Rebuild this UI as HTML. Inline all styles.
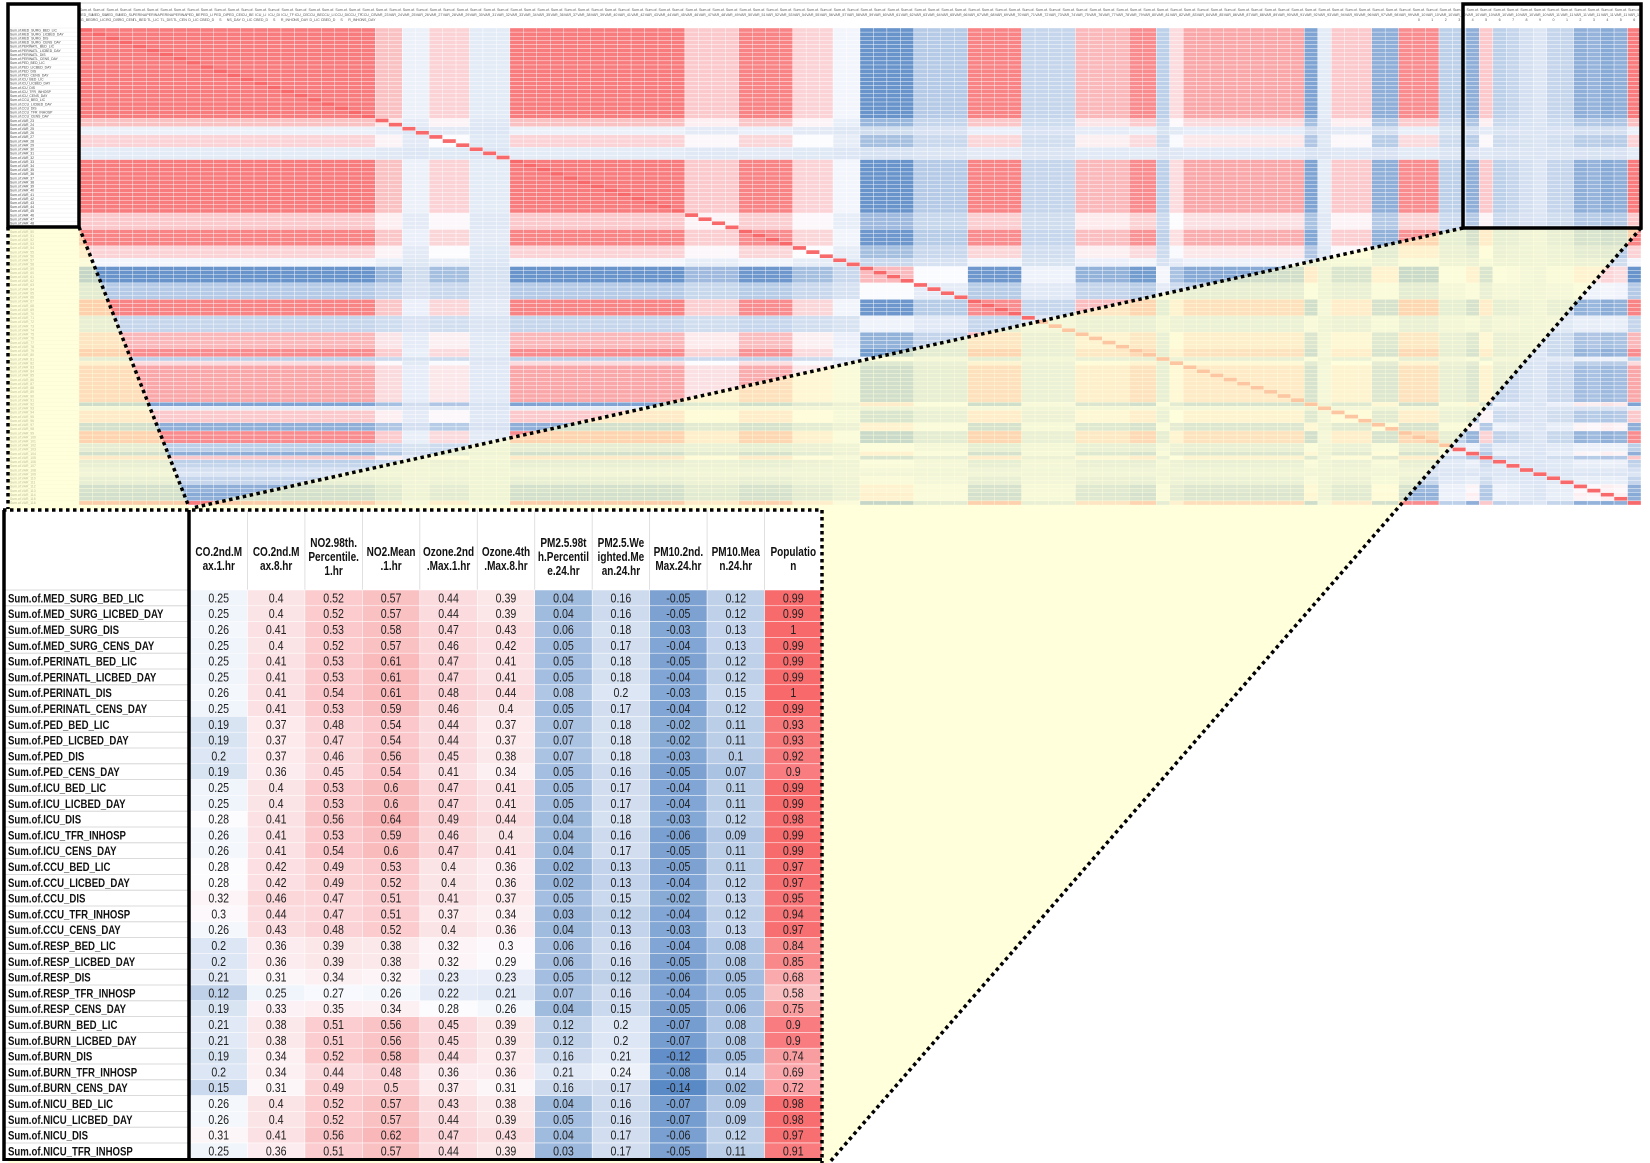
<!DOCTYPE html>
<html><head><meta charset="utf-8">
<style>
html,body{margin:0;padding:0;background:#fff;}
svg{display:block;}
text{font-family:"Liberation Sans Narrow","Liberation Sans",sans-serif;}
</style></head>
<body>
<svg id="fig" xmlns="http://www.w3.org/2000/svg" width="1650" height="1163" viewBox="0 0 1650 1163">
<g id="topheat"></g>
<g id="overlay"></g>
<g id="table"></g>
</svg>
<script>
// ---- full heatmap data: per-variable loading ----
const loadings = [
0.95,0.95,0.95,0.95,0.95,0.95,0.95,0.95,0.95,0.95,0.95,0.95,0.95,0.95,0.95,0.95,0.95,0.95,0.95,0.95,0.95,0.95,
0.55,0.55,0.1,0.1,0.45,0.45,0.45,0.05,0.05,0.05,
0.95,0.95,0.95,0.95,0.95,0.95,0.95,0.95,0.95,0.95,0.95,0.95,0.95,
0.5,0.5,0.5,0.5,0.9,0.9,0.9,0.9,0.45,0.45,0.45,0.15,0.15,
-0.75,-0.75,-0.75,-0.75,-0.25,-0.25,-0.25,-0.25,0.9,0.9,0.9,0.9,-0.15,-0.15,-0.15,-0.15,
0.6,0.6,0.6,0.6,0.85,0.85,-0.2,0.4,0.7,0.7,0.7,0.7,0.7,0.7,0.7,0.7,0.7,
-0.6,0.05,0.5,0.5,0.5,-0.5,-0.5,0.85,0.85,0.85,-0.2,-0.2,
-0.5,0.5,-0.2,-0.15,-0.05,0.0,-0.15,-0.15,-0.5,-0.45,-0.55,-0.5,0.95];
const topLabelStems = ["MED_SURG_BED_LIC","MED_SURG_LICBED_DAY","MED_SURG_DIS","MED_SURG_CENS_DAY","PERINATL_BED_LIC","PERINATL_LICBED_DAY","PERINATL_DIS","PERINATL_CENS_DAY","PED_BED_LIC","PED_LICBED_DAY","PED_DIS","PED_CENS_DAY","ICU_BED_LIC","ICU_LICBED_DAY","ICU_DIS","ICU_TFR_INHOSP","ICU_CENS_DAY","CCU_BED_LIC","CCU_LICBED_DAY","CCU_DIS","CCU_TFR_INHOSP","CCU_CENS_DAY"];

// ---- zoomed table data ----
const colNames = [["CO.2nd.M","ax.1.hr"],["CO.2nd.M","ax.8.hr"],["NO2.98th.","Percentile.","1.hr"],["NO2.Mean",".1.hr"],["Ozone.2nd",".Max.1.hr"],["Ozone.4th",".Max.8.hr"],["PM2.5.98t","h.Percentil","e.24.hr"],["PM2.5.We","ighted.Me","an.24.hr"],["PM10.2nd.","Max.24.hr"],["PM10.Mea","n.24.hr"],["Populatio","n"]];
const rowNames = ["Sum.of.MED_SURG_BED_LIC","Sum.of.MED_SURG_LICBED_DAY","Sum.of.MED_SURG_DIS","Sum.of.MED_SURG_CENS_DAY","Sum.of.PERINATL_BED_LIC","Sum.of.PERINATL_LICBED_DAY","Sum.of.PERINATL_DIS","Sum.of.PERINATL_CENS_DAY","Sum.of.PED_BED_LIC","Sum.of.PED_LICBED_DAY","Sum.of.PED_DIS","Sum.of.PED_CENS_DAY","Sum.of.ICU_BED_LIC","Sum.of.ICU_LICBED_DAY","Sum.of.ICU_DIS","Sum.of.ICU_TFR_INHOSP","Sum.of.ICU_CENS_DAY","Sum.of.CCU_BED_LIC","Sum.of.CCU_LICBED_DAY","Sum.of.CCU_DIS","Sum.of.CCU_TFR_INHOSP","Sum.of.CCU_CENS_DAY","Sum.of.RESP_BED_LIC","Sum.of.RESP_LICBED_DAY","Sum.of.RESP_DIS","Sum.of.RESP_TFR_INHOSP","Sum.of.RESP_CENS_DAY","Sum.of.BURN_BED_LIC","Sum.of.BURN_LICBED_DAY","Sum.of.BURN_DIS","Sum.of.BURN_TFR_INHOSP","Sum.of.BURN_CENS_DAY","Sum.of.NICU_BED_LIC","Sum.of.NICU_LICBED_DAY","Sum.of.NICU_DIS","Sum.of.NICU_TFR_INHOSP"];
const tableValues = [
[0.25,0.4,0.52,0.57,0.44,0.39,0.04,0.16,-0.05,0.12,0.99],
[0.25,0.4,0.52,0.57,0.44,0.39,0.04,0.16,-0.05,0.12,0.99],
[0.26,0.41,0.53,0.58,0.47,0.43,0.06,0.18,-0.03,0.13,1],
[0.25,0.4,0.52,0.57,0.46,0.42,0.05,0.17,-0.04,0.13,0.99],
[0.25,0.41,0.53,0.61,0.47,0.41,0.05,0.18,-0.05,0.12,0.99],
[0.25,0.41,0.53,0.61,0.47,0.41,0.05,0.18,-0.04,0.12,0.99],
[0.26,0.41,0.54,0.61,0.48,0.44,0.08,0.2,-0.03,0.15,1],
[0.25,0.41,0.53,0.59,0.46,0.4,0.05,0.17,-0.04,0.12,0.99],
[0.19,0.37,0.48,0.54,0.44,0.37,0.07,0.18,-0.02,0.11,0.93],
[0.19,0.37,0.47,0.54,0.44,0.37,0.07,0.18,-0.02,0.11,0.93],
[0.2,0.37,0.46,0.56,0.45,0.38,0.07,0.18,-0.03,0.1,0.92],
[0.19,0.36,0.45,0.54,0.41,0.34,0.05,0.16,-0.05,0.07,0.9],
[0.25,0.4,0.53,0.6,0.47,0.41,0.05,0.17,-0.04,0.11,0.99],
[0.25,0.4,0.53,0.6,0.47,0.41,0.05,0.17,-0.04,0.11,0.99],
[0.28,0.41,0.56,0.64,0.49,0.44,0.04,0.18,-0.03,0.12,0.98],
[0.26,0.41,0.53,0.59,0.46,0.4,0.04,0.16,-0.06,0.09,0.99],
[0.26,0.41,0.54,0.6,0.47,0.41,0.04,0.17,-0.05,0.11,0.99],
[0.28,0.42,0.49,0.53,0.4,0.36,0.02,0.13,-0.05,0.11,0.97],
[0.28,0.42,0.49,0.52,0.4,0.36,0.02,0.13,-0.04,0.12,0.97],
[0.32,0.46,0.47,0.51,0.41,0.37,0.05,0.15,-0.02,0.13,0.95],
[0.3,0.44,0.47,0.51,0.37,0.34,0.03,0.12,-0.04,0.12,0.94],
[0.26,0.43,0.48,0.52,0.4,0.36,0.04,0.13,-0.03,0.13,0.97],
[0.2,0.36,0.39,0.38,0.32,0.3,0.06,0.16,-0.04,0.08,0.84],
[0.2,0.36,0.39,0.38,0.32,0.29,0.06,0.16,-0.05,0.08,0.85],
[0.21,0.31,0.34,0.32,0.23,0.23,0.05,0.12,-0.06,0.05,0.68],
[0.12,0.25,0.27,0.26,0.22,0.21,0.07,0.16,-0.04,0.05,0.58],
[0.19,0.33,0.35,0.34,0.28,0.26,0.04,0.15,-0.05,0.06,0.75],
[0.21,0.38,0.51,0.56,0.45,0.39,0.12,0.2,-0.07,0.08,0.9],
[0.21,0.38,0.51,0.56,0.45,0.39,0.12,0.2,-0.07,0.08,0.9],
[0.19,0.34,0.52,0.58,0.44,0.37,0.16,0.21,-0.12,0.05,0.74],
[0.2,0.34,0.44,0.48,0.36,0.36,0.21,0.24,-0.08,0.14,0.69],
[0.15,0.31,0.49,0.5,0.37,0.31,0.16,0.17,-0.14,0.02,0.72],
[0.26,0.4,0.52,0.57,0.43,0.38,0.04,0.16,-0.07,0.09,0.98],
[0.26,0.4,0.52,0.57,0.44,0.39,0.05,0.16,-0.07,0.09,0.98],
[0.31,0.41,0.56,0.62,0.47,0.43,0.04,0.17,-0.06,0.12,0.97],
[0.25,0.36,0.51,0.57,0.44,0.39,0.03,0.17,-0.05,0.11,0.91]];

const NS = "http://www.w3.org/2000/svg";
function mk(tag, attrs, parent){const e=document.createElementNS(NS,tag);for(const k in attrs)e.setAttribute(k,attrs[k]);parent.appendChild(e);return e;}
function squeeze(t,f){const L=t.getComputedTextLength();if(L>0){t.setAttribute('textLength',(L*f).toFixed(1));t.setAttribute('lengthAdjust','spacingAndGlyphs');}}
function scaleColor(v,min,mid,max){
  let a,t;
  if(v>=mid){t=Math.min(1,(v-mid)/(max-mid));a=[248,105,107];}
  else{t=Math.min(1,(mid-v)/(mid-min));a=[90,138,198];}
  const w=[252,252,255];
  return "rgb("+w.map((c,i)=>Math.round(c+(a[i]-c)*t)).join(",")+")";
}

// ---------- top heatmap ----------
const topG=document.getElementById("topheat");
const N=loadings.length, hx0=79, hx1=1641, hy0=28, hy1=505;
const cw=(hx1-hx0)/N, rh=(hy1-hy0)/N;
const xPos=j=>hx0+j*cw, yPos=i=>hy0+i*rh;
mk("line",{x1:8,y1:3,x2:1642,y2:3,stroke:"#ccc","stroke-width":1},topG);
for(let j=0;j<N;j++){
  const nm=j<topLabelStems.length?topLabelStems[j]:"VAR_"+(j+1);
  for(let k=0;k<3;k++){
    const t=mk("text",{x:xPos(j)+cw/2,y:11+k*5,"font-size":3.6,fill:"#555","text-anchor":"middle"},topG);
    
    
    t.textContent=["Sum.of.",nm.slice(0,6),nm.slice(6,12)][k];
  }
}
for(let i=0;i<N;i++){
  const nm=i<topLabelStems.length?topLabelStems[i]:"VAR_"+(i+1);
  const t=mk("text",{x:10,y:yPos(i)+rh*0.8,"font-size":3.4,fill:"#444"},topG);
  
  
  t.textContent="Sum.of."+nm;
  mk("line",{x1:8,y1:yPos(i),x2:79,y2:yPos(i),stroke:"#e6e6e6","stroke-width":0.4},topG);
  for(let j=0;j<N;j++){
    const v=i===j?1:loadings[i]*loadings[j];
    const r=mk("rect",{x:xPos(j),y:yPos(i),width:cw,height:rh,fill:scaleColor(v,-0.8,0.2,1),stroke:"#fff","stroke-width":0.35},topG);
    
    
  }
}

// ---------- overlay (zoom cone + boxes) ----------
const ov=document.getElementById("overlay");
const cone=mk("polygon",{points:"8,227 79,227 189,507 1463,228 1641,228 829,1163 8,1163",fill:"#ffffc6","fill-opacity":0.62},ov);


const dot={stroke:"#000","stroke-width":3.5,"stroke-dasharray":"3.5 3.5",fill:"none"};
[[8,227,8,509],[79,227,189,507],[1463,228,192,508],[1641,228,829,1163]].forEach(p=>{
  const l=mk("line",Object.assign({x1:p[0],y1:p[1],x2:p[2],y2:p[3]},dot),ov);
  
  
});
const lb=mk("rect",{x:8,y:4,width:71,height:223,fill:"none",stroke:"#000","stroke-width":3.5},ov);


const rb=mk("rect",{x:1463,y:4,width:178,height:224,fill:"none",stroke:"#000","stroke-width":3.5},ov);



// ---------- zoomed table ----------
const tb=document.getElementById("table");
const tx0=190, tx1=822, ty0=510, thb=590, trh=15.8;
const tcw=(tx1-tx0)/colNames.length;
const cx=j=>tx0+j*tcw, ry=i=>thb+i*trh;
mk("rect",{x:3,y:ty0,width:tx1-3,height:1160-ty0,fill:"#fff"},tb);
colNames.forEach((lines,j)=>{
  mk("line",{x1:cx(j),y1:ty0,x2:cx(j),y2:thb,stroke:"#d8d8d8","stroke-width":0.8},tb);
  const start=lines.length===3?547:556;
  lines.forEach((s,k)=>{
    const t=mk("text",{x:cx(j)+tcw/2,y:start+k*14,"font-size":12.5,"font-weight":"bold",fill:"#111","text-anchor":"middle"},tb);
    
    
    t.textContent=s;
    squeeze(t,0.8);
  });
});
rowNames.forEach((nm,i)=>{
  mk("line",{x1:3,y1:ry(i),x2:190,y2:ry(i),stroke:"#cfcfcf","stroke-width":0.8},tb);
  const t=mk("text",{x:8,y:ry(i)+trh/2+4.5,"font-size":12,"font-weight":"bold",fill:"#111"},tb);
  
  
  t.textContent=nm;
  squeeze(t,0.8);
  tableValues[i].forEach((v,j)=>{
    const r=mk("rect",{x:cx(j),y:ry(i),width:tcw,height:trh,fill:scaleColor(v,-0.14,0.28,1),stroke:"#fff","stroke-width":0.5},tb);
    
    
    const tt=mk("text",{x:cx(j)+tcw/2,y:ry(i)+trh/2+4.5,"font-size":12.5,fill:"#222","text-anchor":"middle"},tb);
    
    
    tt.textContent=String(v);
    squeeze(tt,0.85);
  });
});
// borders
mk("line",Object.assign({x1:3,y1:ty0,x2:tx1,y2:ty0},dot),tb);
mk("line",Object.assign({x1:tx1,y1:ty0,x2:tx1,y2:1163},dot),tb);
mk("line",{x1:4,y1:ty0,x2:4,y2:1161,stroke:"#000","stroke-width":3.5},tb);
mk("line",{x1:189,y1:ty0,x2:189,y2:1161,stroke:"#000","stroke-width":3.5},tb);
mk("line",{x1:3,y1:1159.5,x2:tx1,y2:1159.5,stroke:"#000","stroke-width":3},tb);
</script>
</body></html>
